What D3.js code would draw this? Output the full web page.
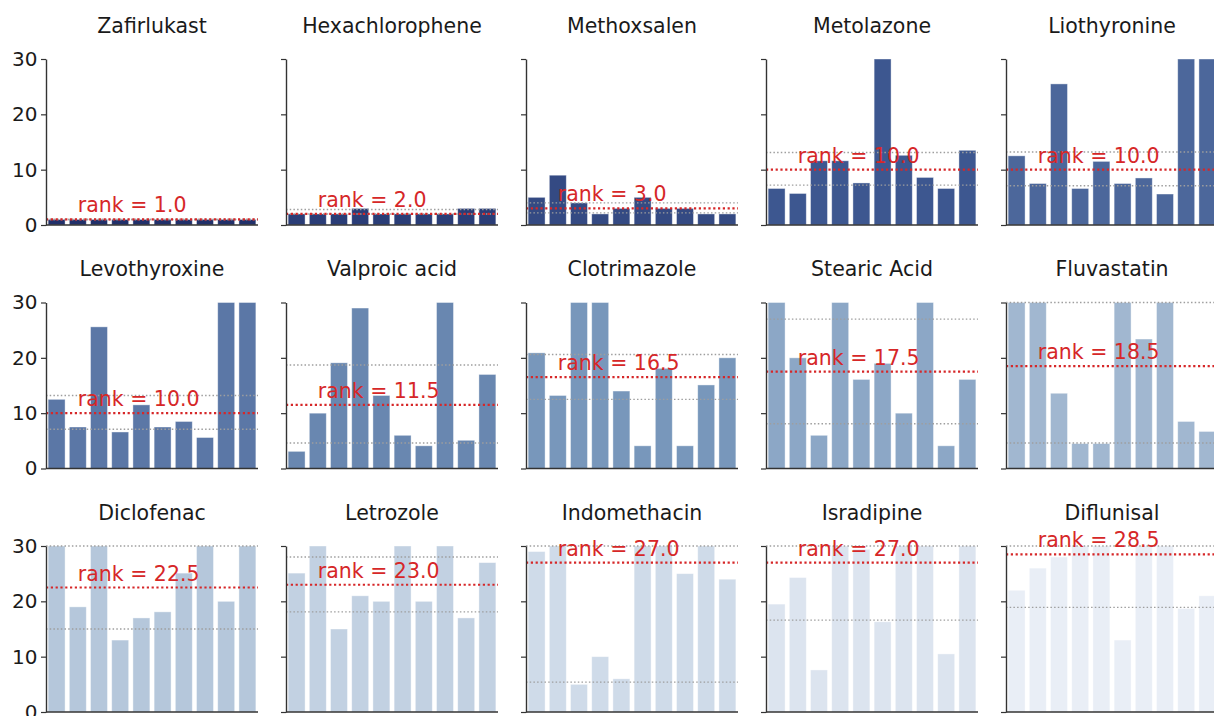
<!DOCTYPE html>
<html>
<head>
<meta charset="utf-8">
<script src="https://cdn.jsdelivr.net/npm/d3@7"></script>
<style>
  body { margin: 0; background: #fff; }
  svg { display: block; font-family: "DejaVu Sans", sans-serif; }
</style>
</head>
<body>
<script>
// Data
const drugs = [
    'Zafirlukast', 'Hexachlorophene', 'Methoxsalen', 'Metolazone', 'Liothyronine',
    'Levothyroxine', 'Valproic acid', 'Clotrimazole', 'Stearic Acid', 'Fluvastatin',
    'Diclofenac', 'Letrozole', 'Indomethacin', 'Isradipine', 'Diflunisal'
];
const ranks = [1.0, 2.0, 3.0, 10.0, 10.0, 10.0, 11.5, 16.5, 17.5, 18.5, 22.5, 23.0, 27.0, 27.0, 28.5];
const upperQ = [1, 2.8, 4.0, 13.1, 13.2, 13.2, 18.7, 20.6, 27.0, 30, 30, 28.0, 30, 30, 30];
const lowerQ = [1, 2, 2.2, 7.2, 7.1, 7.1, 4.6, 12.5, 8.1, 4.6, 15.0, 18.1, 5.4, 16.6, 18.9];
const barValues = [
    [1, 1, 1, 1, 1, 1, 1, 1, 1, 1],
    [2, 2, 2, 3, 2, 2, 2, 2, 3, 3],
    [5, 9, 4, 2, 3, 5, 3, 3, 2, 2],
    [6.6, 5.7, 11.6, 11.6, 7.6, 30, 12.6, 8.6, 6.6, 13.5],
    [12.5, 7.5, 25.5, 6.6, 11.5, 7.5, 8.5, 5.6, 30, 30],
    [12.5, 7.5, 25.6, 6.6, 11.5, 7.5, 8.5, 5.6, 30, 30],
    [3.1, 10, 19.1, 29, 13.2, 6.0, 4.1, 30, 5.1, 17],
    [20.9, 13.2, 30, 30, 14.0, 4.1, 18.1, 4.1, 15.1, 20.0],
    [30, 20.0, 6.0, 30, 16.1, 19.0, 10.0, 30, 4.1, 16.1],
    [30, 30, 13.6, 4.5, 4.5, 30, 23.4, 30, 8.5, 6.7],
    [30, 19.0, 30, 13.0, 17.0, 18.1, 25.1, 30, 20.0, 30],
    [25.1, 30, 15.0, 21.0, 20.0, 30, 20.0, 30, 17.0, 27.0],
    [29, 30, 5, 10, 6, 30, 30, 25, 30, 24],
    [19.5, 24.3, 7.6, 30, 29.4, 16.3, 30, 30, 10.5, 30],
    [22.0, 26.0, 28.0, 30, 30, 13.0, 30, 30, 18.7, 21.0]
];
const yTicks = [0, 10, 20, 30];

// Layout
const width = 1214;
const height = 716;
const panelW = 212;
const panelH = 166;
const left0 = 46;
const top0 = 59;
const colStep = 240;
const rowStep = 243.5;
const nCols = 5;

const panelColor = d3.scaleLinear()
    .domain([0, 3, 7, 10, 14])
    .range(['#21306a', '#3d5790', '#7897bb', '#b5c7db', '#e9eef6']);

const svg = d3.select('body').append('svg')
    .attr('width', width)
    .attr('height', height);

svg.append('rect').attr('width', width).attr('height', height).attr('fill', '#fff');

const x = d3.scaleBand()
    .domain(d3.range(10))
    .range([0, panelW])
    .paddingInner(0.2)
    .paddingOuter(0.1);

const y = d3.scaleLinear()
    .domain([0, 30])
    .range([panelH, 0]);

drugs.forEach((name, i) => {
    const col = i % nCols;
    const row = Math.floor(i / nCols);
    const g = svg.append('g')
        .attr('transform', `translate(${left0 + col * colStep},${top0 + row * rowStep})`);

    // bars
    g.selectAll('rect.bar')
        .data(barValues[i])
        .enter()
        .append('rect')
        .attr('class', 'bar')
        .attr('x', (d, j) => x(j))
        .attr('y', d => y(d))
        .attr('width', x.bandwidth())
        .attr('height', d => y(0) - y(d))
        .attr('fill', panelColor(i))
        .attr('stroke', '#fff')
        .attr('stroke-opacity', 0.5)
        .attr('stroke-width', 0.8);

    // quartile guides
    [upperQ[i], lowerQ[i]].forEach(q => {
        g.append('line')
            .attr('x1', 0).attr('x2', panelW)
            .attr('y1', y(q)).attr('y2', y(q))
            .attr('stroke', '#9e9e9e')
            .attr('stroke-width', 1.4)
            .attr('stroke-dasharray', '1.5,2.2');
    });

    // rank line
    g.append('line')
        .attr('x1', 0).attr('x2', panelW)
        .attr('y1', y(ranks[i])).attr('y2', y(ranks[i]))
        .attr('stroke', '#d62728')
        .attr('stroke-width', 2.2)
        .attr('stroke-dasharray', '2.2,2.6');

    g.append('text')
        .attr('x', x(1) + x.bandwidth() / 2)
        .attr('y', y(ranks[i]) - 7)
        .attr('fill', '#d62728')
        .attr('font-size', 20.5)
        .text(`rank = ${ranks[i].toFixed(1)}`);

    // title
    g.append('text')
        .attr('x', panelW / 2)
        .attr('y', -26.5)
        .attr('text-anchor', 'middle')
        .attr('fill', '#1a1a1a')
        .attr('font-size', 20.5)
        .text(name);

    // left axis
    const axis = d3.axisLeft(y)
        .tickValues(yTicks)
        .tickSize(5)
        .tickSizeOuter(0)
        .tickPadding(3.5)
        .tickFormat(col === 0 ? d3.format('d') : () => '');
    const ag = g.append('g').call(axis);
    ag.select('.domain').attr('stroke', '#333').attr('stroke-width', 1.4);
    ag.selectAll('.tick line').attr('stroke', '#333').attr('stroke-width', 1.2);
    ag.selectAll('.tick text')
        .attr('fill', '#1a1a1a')
        .attr('font-size', 20)
        .attr('font-family', '"DejaVu Sans", sans-serif');

    // bottom spine
    g.append('line')
        .attr('x1', 0).attr('x2', panelW)
        .attr('y1', panelH).attr('y2', panelH)
        .attr('stroke', '#333')
        .attr('stroke-width', 1.4);
});
</script>
</body>
</html>
